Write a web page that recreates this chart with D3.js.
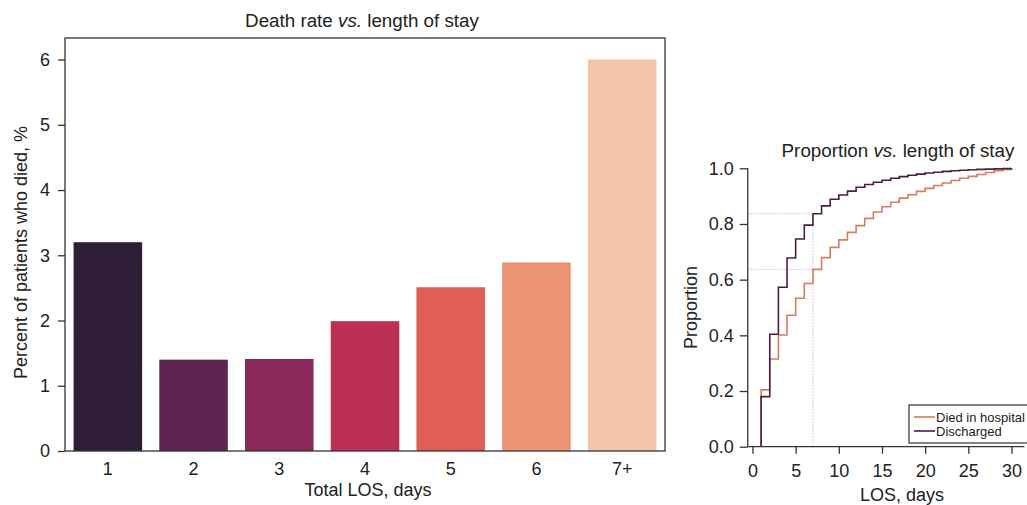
<!DOCTYPE html>
<html>
<head>
<meta charset="utf-8">
<script src="https://cdn.jsdelivr.net/npm/d3@7"></script>
<style>
  body { margin: 0; background: #fff; }
  svg { display: block; font-family: "Liberation Sans", Arial, Helvetica, sans-serif; }
  .axis path, .axis line { stroke: #333; stroke-width: 1.3; }
  .axis text { font-size: 18px; fill: #222; }
</style>
</head>
<body>
<svg width="1027" height="505"></svg>
<script>
// Left panel: death rate per LOS group
const losGroups = ["1", "2", "3", "4", "5", "6", "7+"];
const deathRates = [3.2, 1.4, 1.41, 1.99, 2.51, 2.89, 6.0];
const barColors = ["#2f1d37", "#5d2550", "#8a2a5c", "#bd3055", "#df5e56", "#ea9473", "#f3c5a8"];
const rateTicks = [0, 1, 2, 3, 4, 5, 6];

// Right panel: cumulative proportion by LOS day
const losDays = [1, 2, 3, 4, 5, 6, 7, 8, 9, 10, 11, 12, 13, 14, 15,
  16, 17, 18, 19, 20, 21, 22, 23, 24, 25, 26, 27, 28, 29, 30];
const diedCum = [0.204, 0.315, 0.401, 0.472, 0.533, 0.586, 0.637, 0.679, 0.716, 0.743,
  0.770, 0.794, 0.820, 0.843, 0.862, 0.878, 0.893, 0.905, 0.917, 0.928,
  0.938, 0.947, 0.956, 0.964, 0.971, 0.978, 0.985, 0.991, 0.996, 1.0];
const dischargedCum = [0.18, 0.404, 0.573, 0.678, 0.746, 0.796, 0.837, 0.865, 0.889, 0.904,
  0.918, 0.932, 0.942, 0.950, 0.957, 0.964, 0.970, 0.975, 0.979, 0.983,
  0.986, 0.989, 0.991, 0.993, 0.995, 0.996, 0.997, 0.998, 0.999, 1.0];
const losTicks = [0, 5, 10, 15, 20, 25, 30];
const propTicks = [0, 0.2, 0.4, 0.6, 0.8, 1.0];
const refDay = 7;

const diedColor = "#d77c63";
const dischColor = "#4a1f45";

const svg = d3.select("svg");

// ---------- left bar chart ----------
function drawBars() {
  const left = 65, right = 665, top = 38, bottom = 451;

  const x = d3.scaleBand().domain(losGroups).range([left, right]).paddingInner(0.2).paddingOuter(0.1);
  const y = d3.scaleLinear().domain([0, 6.33]).range([bottom, top]);

  const g = svg.append("g");

  g.selectAll("rect.bar")
    .data(losGroups)
    .enter()
    .append("rect")
    .attr("class", "bar")
    .attr("x", d => x(d))
    .attr("width", x.bandwidth())
    .attr("y", (d, i) => y(deathRates[i]))
    .attr("height", (d, i) => y(0) - y(deathRates[i]))
    .attr("fill", (d, i) => barColors[i]);

  // frame
  g.append("rect")
    .attr("x", left).attr("y", top)
    .attr("width", right - left).attr("height", bottom - top)
    .attr("fill", "none").attr("stroke", "#333").attr("stroke-width", 1.3);

  g.append("g")
    .attr("class", "axis")
    .attr("transform", "translate(" + left + ",0)")
    .call(d3.axisLeft(y).tickValues(rateTicks).tickSize(7).tickPadding(8).tickFormat(d3.format("d")))
    .call(a => a.select(".domain").remove());

  g.append("g")
    .attr("class", "axis")
    .attr("transform", "translate(0," + bottom + ")")
    .call(d3.axisBottom(x).tickSize(0).tickPadding(11))
    .call(a => a.select(".domain").remove());

  const title = g.append("text")
    .attr("x", (left + right) / 2 - 3)
    .attr("y", 27)
    .attr("text-anchor", "middle")
    .style("font-size", "18.8px")
    .attr("fill", "#222");
  title.append("tspan").text("Death rate ");
  title.append("tspan").style("font-style", "italic").text("vs.");
  title.append("tspan").text(" length of stay");

  g.append("text")
    .attr("x", (left + right) / 2 + 3)
    .attr("y", 496)
    .attr("text-anchor", "middle")
    .style("font-size", "18px")
    .attr("fill", "#222")
    .text("Total LOS, days");

  g.append("text")
    .attr("transform", "translate(27," + ((top + bottom) / 2 + 8) + ") rotate(-90)")
    .attr("text-anchor", "middle")
    .style("font-size", "18px")
    .attr("fill", "#222")
    .text("Percent of patients who died, %");
}

// ---------- right step chart ----------
function drawSteps() {
  const x = d3.scaleLinear().domain([0, 30]).range([752.5, 1011.5]);
  const y = d3.scaleLinear().domain([0, 1]).range([446.7, 168.3]);
  const spineX = x(-0.55);
  const spineEnd = x(31.5);

  const g = svg.append("g");

  // reference lines at day 7
  const dIdx = losDays.indexOf(refDay);
  const ref = g.append("g")
    .attr("stroke", "#c4c4c4")
    .attr("stroke-width", 1)
    .attr("stroke-dasharray", "1.5,1.5");
  ref.append("line")
    .attr("x1", spineX).attr("x2", x(refDay))
    .attr("y1", y(dischargedCum[dIdx])).attr("y2", y(dischargedCum[dIdx]));
  ref.append("line")
    .attr("x1", spineX).attr("x2", x(refDay))
    .attr("y1", y(diedCum[dIdx])).attr("y2", y(diedCum[dIdx]));
  ref.append("line")
    .attr("x1", x(refDay)).attr("x2", x(refDay))
    .attr("y1", y(0)).attr("y2", y(dischargedCum[dIdx]));

  const line = d3.line()
    .x(d => x(d[0]))
    .y(d => y(d[1]))
    .curve(d3.curveStepAfter);

  const series = [
    { name: "Died in hospital", values: diedCum, color: diedColor },
    { name: "Discharged", values: dischargedCum, color: dischColor }
  ];

  series.forEach(s => {
    const pts = [[losDays[0], 0]].concat(losDays.map((d, i) => [d, s.values[i]]));
    g.append("path")
      .datum(pts)
      .attr("fill", "none")
      .attr("stroke", s.color)
      .attr("stroke-width", 1.6)
      .attr("d", line);
  });

  // axes
  g.append("g")
    .attr("class", "axis")
    .attr("transform", "translate(" + spineX + ",0)")
    .call(d3.axisLeft(y).tickValues(propTicks).tickSize(8).tickPadding(6).tickFormat(d3.format(".1f")))
    .call(a => a.select(".domain").attr("d", "M0," + y(1) + "V" + y(0)));

  g.append("g")
    .attr("class", "axis")
    .attr("transform", "translate(0," + y(0) + ")")
    .call(d3.axisBottom(x).tickValues(losTicks).tickSize(7).tickPadding(11))
    .call(a => a.select(".domain").attr("d", "M" + spineX + ",0H" + spineEnd));

  const title = g.append("text")
    .attr("x", 898)
    .attr("y", 157)
    .attr("text-anchor", "middle")
    .style("font-size", "18.8px")
    .attr("fill", "#222");
  title.append("tspan").text("Proportion ");
  title.append("tspan").style("font-style", "italic").text("vs.");
  title.append("tspan").text(" length of stay");

  g.append("text")
    .attr("x", 902)
    .attr("y", 501)
    .attr("text-anchor", "middle")
    .style("font-size", "18px")
    .attr("fill", "#222")
    .text("LOS, days");

  g.append("text")
    .attr("transform", "translate(697," + (y(0.5)) + ") rotate(-90)")
    .attr("text-anchor", "middle")
    .style("font-size", "18px")
    .attr("fill", "#222")
    .text("Proportion");

  // legend
  const legend = g.append("g").attr("transform", "translate(909,405)");
  legend.append("rect")
    .attr("width", 124).attr("height", 38)
    .attr("fill", "#fff")
    .attr("stroke", "#333")
    .attr("stroke-width", 1.2);
  series.forEach((s, i) => {
    const ly = 12 + i * 14;
    legend.append("line")
      .attr("x1", 5).attr("x2", 26)
      .attr("y1", ly).attr("y2", ly)
      .attr("stroke", s.color)
      .attr("stroke-width", 1.6);
    legend.append("text")
      .attr("x", 27).attr("y", ly + 4.5)
      .style("font-size", "13px")
      .attr("fill", "#222")
      .text(s.name);
  });
}

drawBars();
drawSteps();
</script>
</body>
</html>
